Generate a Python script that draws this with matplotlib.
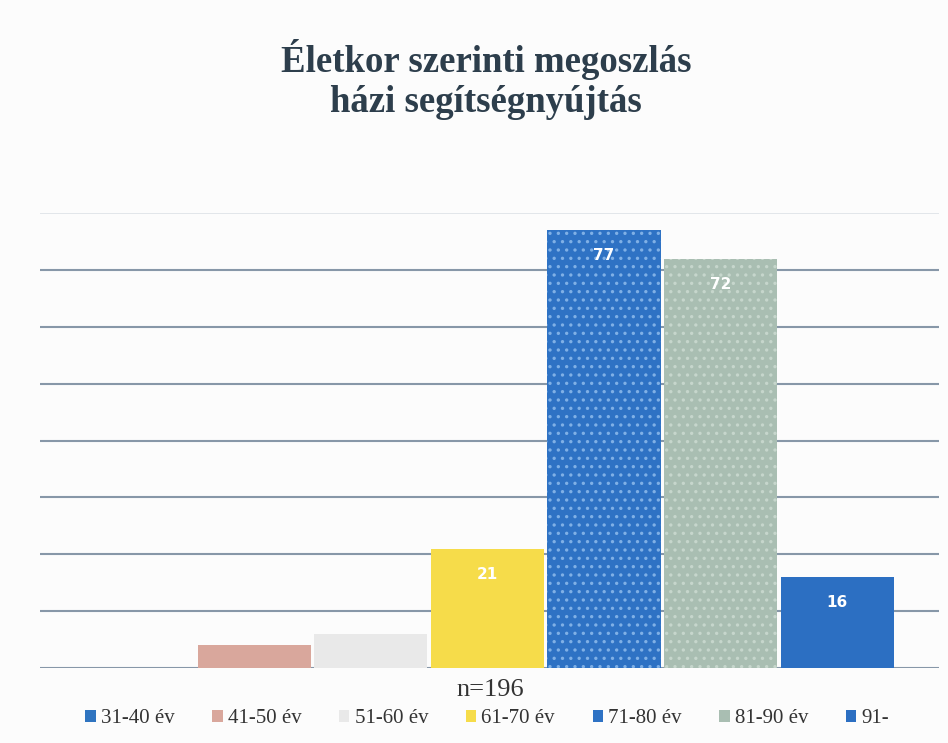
import matplotlib
matplotlib.use("Agg")
import matplotlib.pyplot as plt
from matplotlib.patches import Patch

categories = ["31-40 év", "41-50 év", "51-60 év", "61-70 év", "71-80 év", "81-90 év", "91-"]
values = [0, 4, 6, 21, 77, 72, 16]
colors = ["#2f74c0", "#d9a79c", "#e9e9e9", "#f6dc4a", "#2e72c4", "#a9beb2", "#2c6fc2"]
hatches = [None, None, None, None, "..", "..", None]
hatch_colors = [None, None, None, None, "#7fb0e6", "#c6d6cc", None]
labelled = [False, False, False, True, True, True, True]
title = "Életkor szerinti megoszlás\nházi segítségnyújtás"
note = "n=196"

plt.rcParams['font.family'] = ['Liberation Serif', 'DejaVu Serif']
plt.rcParams['hatch.linewidth'] = 1.2

fig = plt.figure(figsize=(9.48, 7.43), dpi=100)
fig.patch.set_facecolor("#fcfcfc")
ax = fig.add_axes([0.042, 0.101, 0.948, 0.612])
ax.set_facecolor("none")

x = list(range(len(categories)))
for i, (v, c) in enumerate(zip(values, colors)):
    ax.bar(x[i], v, width=0.97, color=c, zorder=3,
           edgecolor=hatch_colors[i] if hatches[i] else c,
           hatch=hatches[i], linewidth=0)
    if labelled[i]:
        ax.text(x[i], v - 4.5, str(v), ha="center", va="center", color="white",
                fontsize=11, fontweight="bold", family=["DejaVu Sans"], zorder=4)

ax.set_xlim(-0.84, 6.87)
ax.set_ylim(0, 80)
for yv in range(0, 71, 10):
    ax.axhline(yv, color="#8797a8", linewidth=1.5, zorder=0)
ax.axhline(80, color="#dde2e7", linewidth=1.2, zorder=0)
ax.tick_params(left=False, bottom=False, labelleft=False, labelbottom=False)
for s in ax.spines.values():
    s.set_visible(False)

fig.text(0.513, 0.893, title, ha="center", va="center", fontsize=26.5,
         fontweight="bold", color="#2d3e4c", linespacing=1.2)
fig.text(0.517, 0.071, note, ha="center", va="center", fontsize=19, color="#333333")

handles = [Patch(facecolor=c, edgecolor="none") for c in colors]
leg = fig.legend(handles, categories, loc="center left", bbox_to_anchor=(0.09, 0.033),
                 ncol=7, frameon=False, fontsize=15, handlelength=0.5, handleheight=0.5,
                 handletextpad=0.25, columnspacing=1.8, labelcolor="#333333",
                 borderaxespad=0, borderpad=0)

fig.savefig("out.png", dpi=100, facecolor=fig.get_facecolor())
